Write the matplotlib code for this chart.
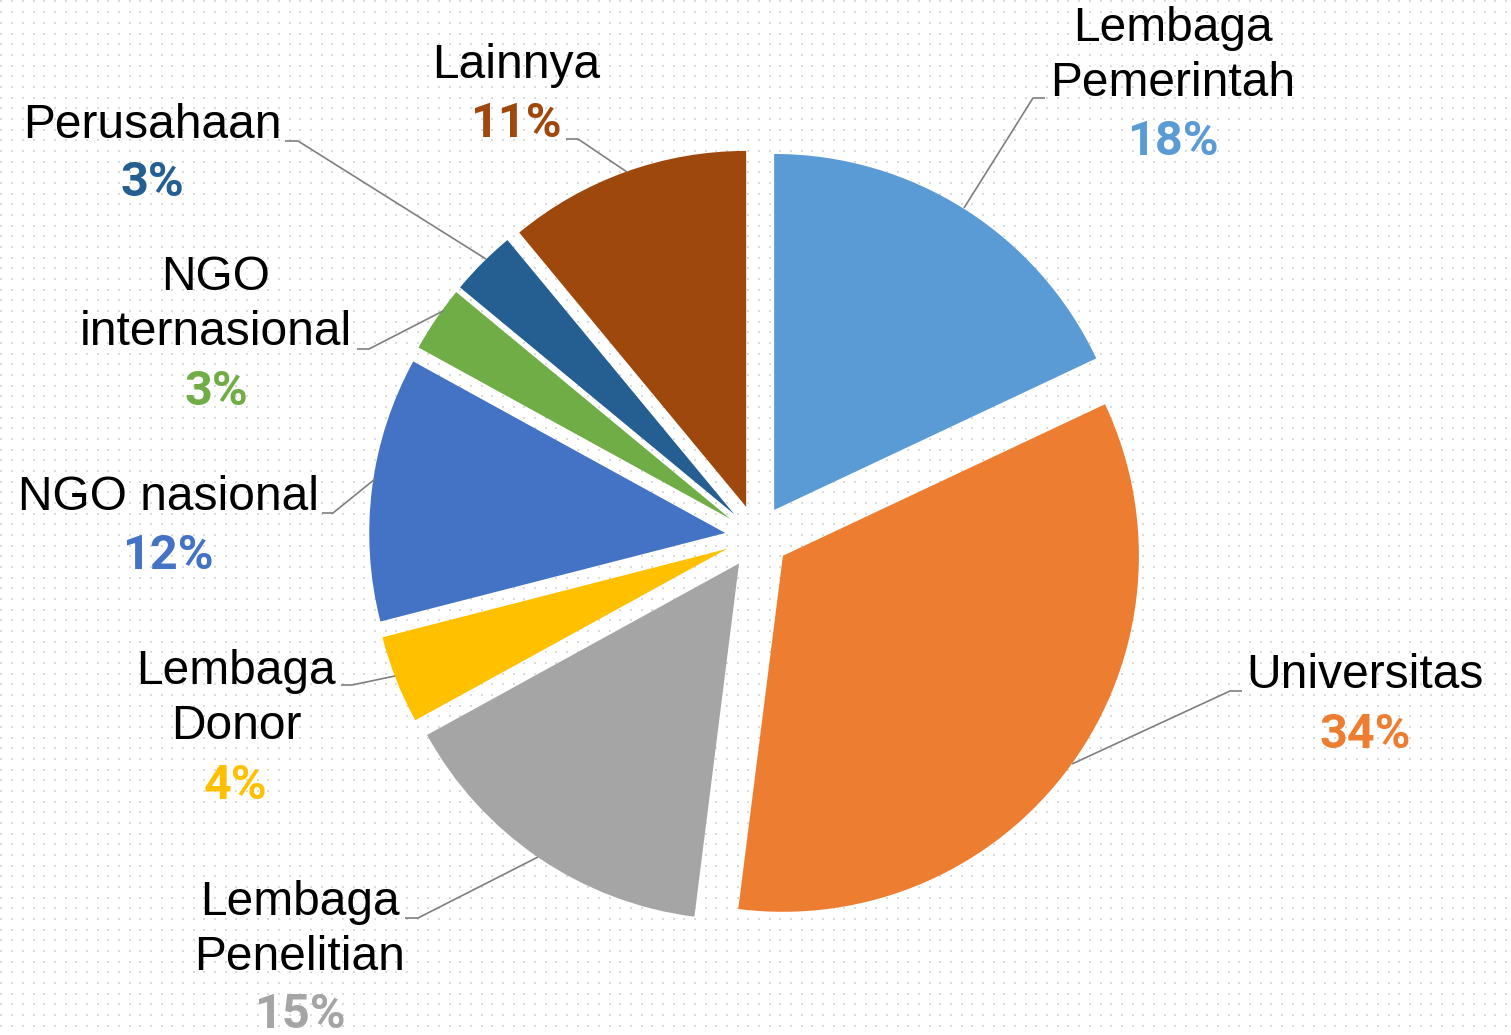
import numpy as np
import matplotlib
matplotlib.use("Agg")
import matplotlib.pyplot as plt

labels = ["Lembaga\nPemerintah", "Universitas", "Lembaga\nPenelitian", "Lembaga\nDonor",
          "NGO nasional", "NGO\ninternasional", "Perusahaan", "Lainnya"]
values = [18, 34, 15, 4, 12, 3, 3, 11]
colors = ["#5B9BD5", "#ED7D31", "#A5A5A5", "#FFC000", "#4472C4", "#70AD47", "#255E91", "#9E480E"]

W, H = 1511, 1035
fig = plt.figure(figsize=(W / 100, H / 100), dpi=100)
ax = fig.add_axes([0, 0, 1, 1])

# dotted background
yy, xx = np.indices((H, W))
dots = ((xx % 10.67) < 2) & ((yy % 10.67) < 2)
bg = np.ones((H, W, 3))
bg[dots] = [0.86, 0.86, 0.86]
ax.imshow(bg, extent=(0, W, 0, H), zorder=0, interpolation="nearest")


def Y(y):  # image row -> data y
    return H - y


# explode is in data units (pixels here)
ax.pie(values, colors=colors, startangle=90, counterclock=False,
       center=(757, Y(537)), radius=356, explode=[32] * len(values),
       wedgeprops=dict(linewidth=0), frame=True)
ax.set_xlim(0, W)
ax.set_ylim(0, H)
ax.axis("off")

# label layout: (text x, name y, pct y, leader points)
layout = [
    (1173, 56, 142, [(1045, 98), (1033, 98), (964, 208)]),
    (1365, 676, 735, [(1242, 691), (1230, 691), (1072, 764)]),
    (300, 930, 1015, [(405, 918), (418, 918), (538, 857)]),
    (236, 699, 786, [(341, 685), (352, 685), (395, 676)]),
    (168, 498, 556, [(322, 513), (333, 513), (375, 479)]),
    (216, 305, 392, [(357, 349), (369, 349), (443, 311)]),
    (152, 126, 183, [(285, 141), (298, 141), (486, 259)]),
    (516, 66, 124, [(566, 139), (578, 139), (627, 172)]),
]

for name, val, col, (lx, ny, py, pts) in zip(labels, values, colors, layout):
    ax.text(lx, Y(ny), name, ha="center", va="center", fontsize=34.5,
            family="Liberation Sans", color="black", linespacing=1.26, zorder=5)
    ax.text(lx, Y(py), f"{val}%", ha="center", va="center", fontsize=35,
            family="Roboto", fontweight="bold", color=col, zorder=5)
    xs = [p[0] for p in pts]
    ys = [Y(p[1]) for p in pts]
    ax.plot(xs, ys, color="#7F7F7F", lw=1.2, zorder=4, solid_capstyle="butt")

fig.savefig("out.png", dpi=100)
